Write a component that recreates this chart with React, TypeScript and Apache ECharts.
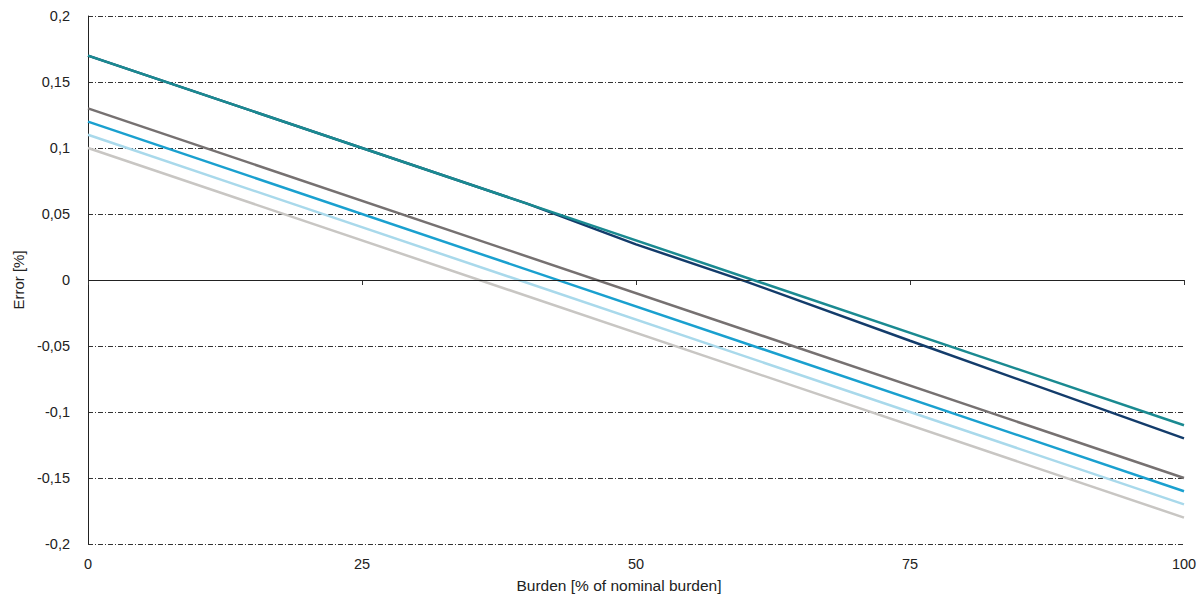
import React, { useEffect, useRef } from "react";
import * as echarts from "echarts";

const burden = [0, 100];
const seriesNames = ["S1", "S2", "S3", "S4", "S5", "S6"];
const navyBurden = [0, 25, 40, 50, 60, 75, 100];
const navy = [0.17, 0.1, 0.058, 0.027, -0.001, -0.046, -0.12];
const teal = [0.17, -0.11];
const gray = [0.13, -0.15];
const blue = [0.12, -0.16];
const lightBlue = [0.11, -0.17];
const lightGray = [0.1, -0.18];
const colors = ["#133c6b", "#1a8a91", "#767171", "#1aa0cf", "#a9d9eb", "#c8c6c3"];

export default function App() {
  const ref = useRef<HTMLDivElement>(null);
  useEffect(() => {
    const chart = echarts.init(ref.current!, null, { renderer: "svg" });
    const all = [navy, teal, gray, blue, lightBlue, lightGray];
    const font = "Liberation Sans, Arial, sans-serif";
    chart.setOption({
      animation: false,
      grid: { left: 88, right: 20, top: 16, bottom: 57 },
      xAxis: {
        type: "value",
        min: 0,
        max: 100,
        interval: 25,
        name: "Burden [% of nominal burden]",
        nameLocation: "middle",
        nameGap: 33,
        nameTextStyle: { color: "#222", fontSize: 15.5, fontFamily: font, padding: [0, 34, 0, 0] },
        axisLine: { show: false },
        axisTick: { show: true, length: 5, lineStyle: { color: "#333" } },
        axisLabel: { color: "#222", fontSize: 14.5, fontFamily: font, margin: 12 },
        splitLine: { show: false },
      },
      yAxis: {
        type: "value",
        min: -0.2,
        max: 0.2,
        interval: 0.05,
        name: "Error [%]",
        nameLocation: "middle",
        nameGap: 62,
        nameTextStyle: { color: "#222", fontSize: 15, fontFamily: font },
        axisLine: { show: true, lineStyle: { color: "#222", width: 1 } },
        axisTick: { show: false },
        axisLabel: {
          color: "#222",
          fontSize: 14.5,
          fontFamily: font,
          margin: 18,
          formatter: (v: number) => String(Math.round(v * 100) / 100).replace(".", ","),
        },
        splitLine: {
          show: true,
          lineStyle: { color: "#333", width: 1, type: [5, 2, 1, 2] },
        },
      },
      series: all.map((d, i) => ({
        name: seriesNames[i],
        type: "line",
        data: (i === 0 ? navyBurden : burden).map((x, j) => [x, d[j]]),
        symbol: "none",
        lineStyle: { color: colors[i], width: 2.5 },
        z: i === 1 ? 5 : 3,
        markLine:
          i === 0
            ? {
                silent: true,
                symbol: "none",
                label: { show: false },
                lineStyle: { color: "#222", width: 1, type: "solid" },
                data: [{ yAxis: 0 }],
              }
            : undefined,
      })),
    });
    return () => chart.dispose();
  }, []);
  return <div ref={ref} style={{ width: 1204, height: 601, position: "absolute", left: 0, top: 0 }} />;
}
